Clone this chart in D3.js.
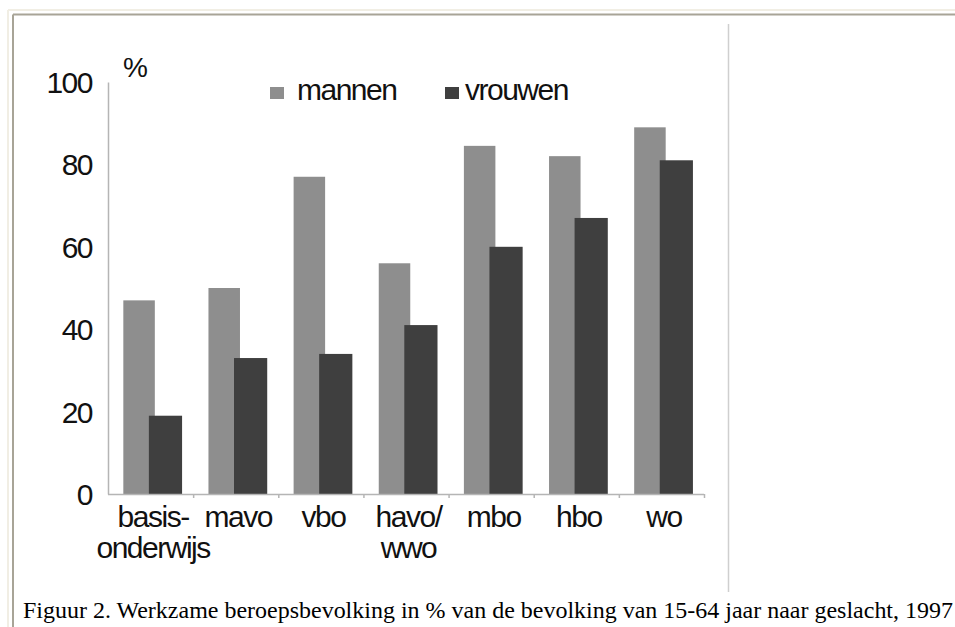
<!DOCTYPE html>
<html>
<head>
<meta charset="utf-8">
<script src="https://cdn.jsdelivr.net/npm/d3@7"></script>
<style>
  html, body { margin: 0; padding: 0; background: #fff; }
  svg { display: block; }
</style>
</head>
<body>
<script>
const categories = [["basis-", "onderwijs"], ["mavo"], ["vbo"], ["havo/", "wwo"], ["mbo"], ["hbo"], ["wo"]];
const seriesNames = ["mannen", "vrouwen"];
const mannen = [47, 50, 77, 56, 84.5, 82, 89];
const vrouwen = [19, 33, 34, 41, 60, 67, 81];
const yTicks = [0, 20, 40, 60, 80, 100];
const unitLabel = "%";
const caption = "Figuur 2. Werkzame beroepsbevolking in % van de bevolking van 15-64 jaar naar geslacht, 1997";

const W = 955, H = 627;
const svg = d3.select("body").append("svg").attr("width", W).attr("height", H);

// frame (inset border)
svg.append("line").attr("x1", 8).attr("x2", W).attr("y1", 10).attr("y2", 10).attr("stroke", "#f1eee4").attr("stroke-width", 2);
svg.append("line").attr("x1", 8).attr("x2", 8).attr("y1", 10).attr("y2", H).attr("stroke", "#f1eee4").attr("stroke-width", 2);
svg.append("line").attr("x1", 13).attr("x2", W).attr("y1", 14.5).attr("y2", 14.5).attr("stroke", "#a8a497").attr("stroke-width", 2);
svg.append("line").attr("x1", 13).attr("x2", 13).attr("y1", 14.5).attr("y2", H).attr("stroke", "#a8a497").attr("stroke-width", 2);

// right separator
svg.append("line").attr("x1", 728.5).attr("x2", 728.5).attr("y1", 24).attr("y2", 592).attr("stroke", "#cfcfcf").attr("stroke-width", 1.5);

const x = d3.scaleBand().domain(d3.range(categories.length)).range([108, 704]).padding(0);
const y = d3.scaleLinear().domain([0, 100]).range([494, 82]);
const bw = x.bandwidth();

const font = "'Liberation Sans', Arial, sans-serif";

// bars
const g = svg.append("g");
g.selectAll("rect.m").data(mannen).join("rect").attr("class", "m")
  .attr("x", (d, i) => x(i) + bw * 0.18).attr("width", bw * 0.37)
  .attr("y", d => y(d)).attr("height", d => y(0) - y(d))
  .attr("fill", "#8e8e8e");
g.selectAll("rect.v").data(vrouwen).join("rect").attr("class", "v")
  .attr("x", (d, i) => x(i) + bw * 0.48).attr("width", bw * 0.39)
  .attr("y", d => y(d)).attr("height", d => y(0) - y(d))
  .attr("fill", "#3f3f3f");

// y axis
const yAxis = d3.axisLeft(y).tickValues(yTicks).tickSize(0).tickPadding(16);
const ya = svg.append("g").attr("transform", "translate(108,0)").call(yAxis);
ya.select(".domain").attr("stroke", "#b5b5b5").attr("stroke-width", 1.5);
ya.selectAll("text").attr("font-family", font).attr("font-size", 30).attr("letter-spacing", "-1.5px").attr("fill", "#111").attr("dy", "0.35em");

// x axis
const xb = d3.scaleLinear().domain([0, categories.length]).range([108, 704]);
const xa = svg.append("g").attr("transform", "translate(0,494)")
  .call(d3.axisBottom(xb).tickValues(d3.range(1, categories.length + 1)).tickSize(4).tickFormat(""));
xa.select(".domain").attr("stroke", "#b5b5b5").attr("stroke-width", 1.5).attr("d", "M108,0.5H704");
xa.selectAll(".tick line").attr("stroke", "#b5b5b5").attr("stroke-width", 1.5);

// category labels
const cl = svg.append("g");
categories.forEach((lines, i) => {
  const t = cl.append("text").attr("text-anchor", "middle")
    .attr("font-family", font).attr("font-size", 30).attr("letter-spacing", "-1.5px").attr("fill", "#111");
  lines.forEach((ln, j) => {
    t.append("tspan").attr("x", x(i) + bw * 0.53).attr("y", 527 + j * 31).text(ln);
  });
});

// unit label
svg.append("text").attr("x", 123).attr("y", 77).attr("font-family", font).attr("font-size", 28).attr("fill", "#111").text(unitLabel);

// legend
const legendX = [270, 445];
const legendColors = ["#8e8e8e", "#3f3f3f"];
seriesNames.forEach((s, i) => {
  svg.append("rect").attr("x", legendX[i]).attr("y", 87).attr("width", 14).attr("height", 12).attr("fill", legendColors[i]);
  svg.append("text").attr("x", legendX[i] + (i === 0 ? 27 : 20)).attr("y", 100)
    .attr("font-family", font).attr("font-size", 30).attr("letter-spacing", "-1.5px").attr("fill", "#111").text(s);
});

// caption
svg.append("text").attr("x", 23).attr("y", 618).attr("font-family", "'Liberation Serif', 'Times New Roman', serif")
  .attr("font-size", 23.5).attr("textLength", 930).attr("lengthAdjust", "spacingAndGlyphs").attr("fill", "#000").text(caption);
</script>
</body>
</html>
